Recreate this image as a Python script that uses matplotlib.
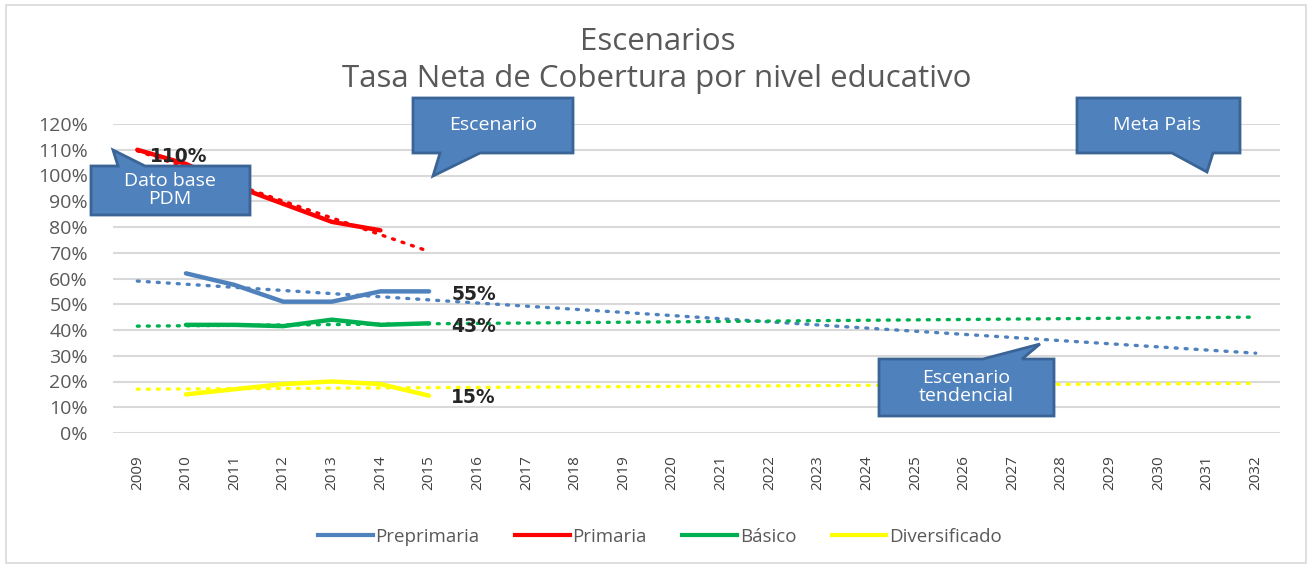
import matplotlib
matplotlib.use("Agg")
import matplotlib.pyplot as plt
from matplotlib.patches import Polygon, Rectangle
from matplotlib.lines import Line2D

plt.rcParams['font.family'] = ['Open Sans', 'DejaVu Sans']

years = [str(y) for y in range(2009, 2033)]

# series values (%), index 0 = 2009
preprimaria = [None, 62, 57.5, 51, 51, 55, 55]
primaria = [110, 104.5, 96, 89, 82, 78.7]
basico = [None, 42, 42, 41.5, 44, 42, 42.6]
diversificado = [None, 15, 17, 19, 20, 19, 14.5]

# dotted trend lines: (first year index, last year index), (start value, end value)
trend_primaria = ([0, 6], [109.6, 70.5])
trend_preprimaria = ([0, 23], [59, 31])
trend_basico = ([0, 23], [41.5, 45])
trend_diversificado = ([0, 23], [17, 19.3])

c_pre = '#4F81BD'
c_pri = '#FF0000'
c_bas = '#00B050'
c_div = '#FFFF00'

W, H = 1312, 569
fig = plt.figure(figsize=(W / 100, H / 100), dpi=100)
ax = fig.add_axes([113 / W, 1 - 433 / H, (1280 - 113) / W, (433 - 124) / H])


def series(vals):
    xs = [i for i, v in enumerate(vals) if v is not None]
    ys = [v for v in vals if v is not None]
    return xs, ys


for vals, col in [(preprimaria, c_pre), (primaria, c_pri), (basico, c_bas), (diversificado, c_div)]:
    xs, ys = series(vals)
    ax.plot(xs, ys, color=col, lw=3.2, solid_capstyle='round', zorder=3)

for (tx, ty), col in [(trend_primaria, c_pri), (trend_preprimaria, c_pre),
                      (trend_basico, c_bas), (trend_diversificado, c_div)]:
    ax.plot(tx, ty, color=col, lw=2.4, ls=(0, (0.6, 2.4)), dash_capstyle='round', zorder=2)

ax.set_xlim(-0.5, 23.5)
ax.set_ylim(0, 120)
ax.set_yticks(range(0, 121, 10))
ax.set_yticklabels([f'{v}%' for v in range(0, 121, 10)])
ax.set_xticks(range(len(years)))
ax.set_xticklabels(years, rotation=90)
ax.grid(axis='y', color='#D9D9D9', lw=1.5)
ax.set_axisbelow(True)
for s in ax.spines.values():
    s.set_visible(False)
ax.tick_params(axis='y', length=0, pad=18, labelsize=14, labelcolor='#595959')
ax.tick_params(axis='x', length=0, pad=16, labelsize=11, labelcolor='#404040')

# data labels
lbl = dict(fontsize=13.5, fontweight='bold', color='#262626', family='DejaVu Sans',
           textcoords='offset points', va='center', ha='left')
ax.annotate('110%', (0, primaria[0]), xytext=(9, -4.5), **lbl)
ax.annotate('55%', (6, preprimaria[6]), xytext=(16, -2), **lbl)
ax.annotate('43%', (6, basico[6]), xytext=(16, -2), **lbl)
ax.annotate('15%', (6, diversificado[6]), xytext=(16, -1), **lbl)

fig.text(658 / W, 1 - 42 / H, 'Escenarios', ha='center', va='center', fontsize=22.5, color='#595959')
fig.text(657 / W, 1 - 79 / H, 'Tasa Neta de Cobertura por nivel educativo', ha='center', va='center',
         fontsize=22.5, color='#595959')


def callout(pts, text, cx, cy):
    poly = Polygon([(x / W, 1 - y / H) for x, y in pts], closed=True, transform=fig.transFigure,
                   facecolor='#4F81BD', edgecolor='#3A6496', lw=2, zorder=5)
    fig.patches.append(poly)
    fig.text(cx / W, 1 - cy / H, text, ha='center', va='center', fontsize=14, color='white',
             linespacing=1.05, zorder=6)


callout([(413, 98), (573, 98), (573, 153), (480, 153), (433, 176), (440, 153), (413, 153)],
        'Escenario', 493, 125)
callout([(1077, 98), (1240, 98), (1240, 153), (1213, 153), (1207, 172), (1172, 153), (1077, 153)],
        'Meta Pais', 1157, 125)
callout([(91, 166), (118, 166), (113, 150), (145, 166), (250, 166), (250, 215), (91, 215)],
        'Dato base\nPDM', 170, 190)
callout([(879, 359), (983, 359), (1040, 344), (1022, 359), (1054, 359), (1054, 416), (879, 416)],
        'Escenario\ntendencial', 966, 387)

handles = [Line2D([], [], color=c, lw=3) for c in [c_pre, c_pri, c_bas, c_div]]
fig.legend(handles, ['Preprimaria', 'Primaria', 'Básico', 'Diversificado'], ncol=4, loc='center',
           bbox_to_anchor=(660 / W, 1 - 537 / H), frameon=False, fontsize=13.5, handlelength=2.9,
           handletextpad=0.15, columnspacing=1.9, labelcolor='#595959')

fig.patches.append(Rectangle((6 / W, 1 - 563 / H), 1300 / W, 558 / H, transform=fig.transFigure,
                             fill=False, edgecolor='#D9D9D9', lw=1.2, zorder=0))

fig.savefig('out.png', dpi=100)
